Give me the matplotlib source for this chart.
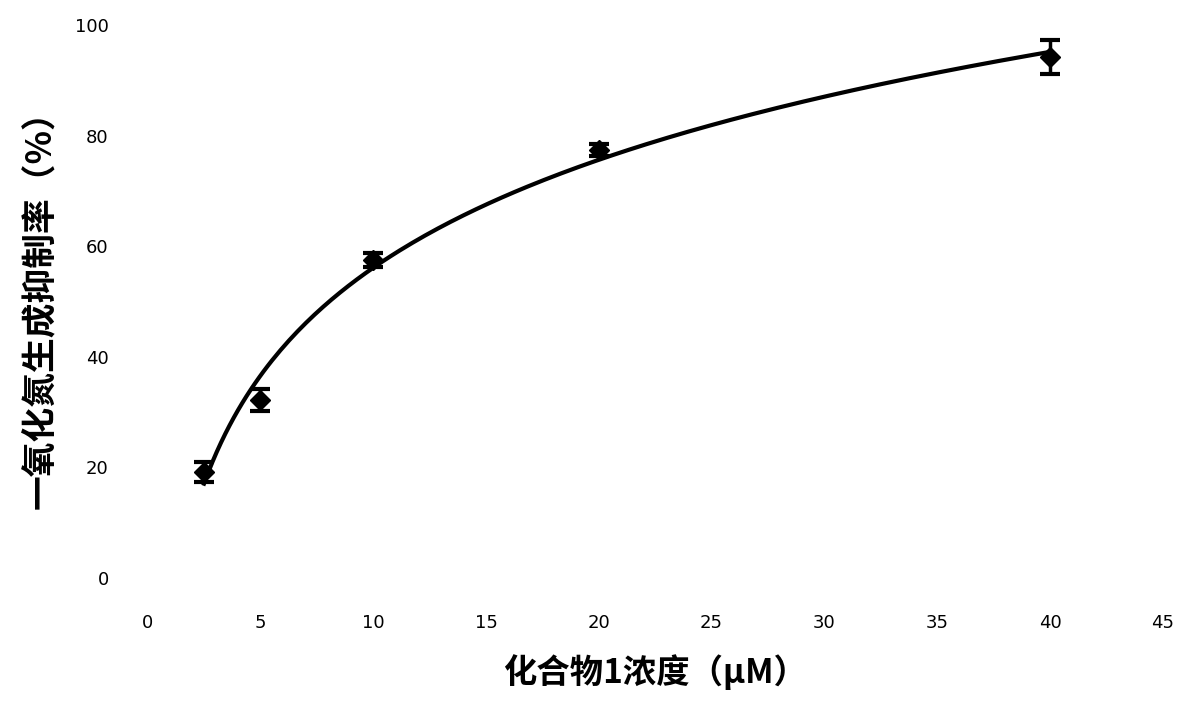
import numpy as np
import matplotlib
matplotlib.use("Agg")
import matplotlib.pyplot as plt

plt.rcParams['font.family'] = ['Noto Sans CJK SC', 'DejaVu Sans']

# data
conc = [2.5, 5, 10, 20, 40]
inhibition = [19.2, 32.2, 57.5, 77.4, 94.2]
err = [1.8, 2.0, 1.2, 1.0, 3.0]

xticks = [0, 5, 10, 15, 20, 25, 30, 35, 40, 45]
yticks = [0, 20, 40, 60, 80, 100]

# logarithmic trendline fitted to the points
a, b = np.polyfit(np.log(conc), inhibition, 1)
xs = np.linspace(conc[0], conc[-1], 200)
ys = a * np.log(xs) + b

fig = plt.figure(figsize=(12, 7.08), dpi=100)
ax = fig.add_axes([0.123, 0.1836, 0.846, 0.7811])

ax.plot(xs, ys, color='black', lw=3)
ax.errorbar(conc, inhibition, yerr=err, fmt='D', color='black', ms=10,
            elinewidth=2.5, capsize=7, capthick=3)

ax.set_xlim(0, 45)
ax.set_ylim(0, 100)
ax.set_xticks(xticks)
ax.set_yticks(yticks)
ax.tick_params(length=0, labelsize=13)
ax.tick_params(axis='x', pad=26)
ax.tick_params(axis='y', pad=28)
for lbl in ax.get_xticklabels() + ax.get_yticklabels():
    lbl.set_fontfamily('DejaVu Sans')
for s in ax.spines.values():
    s.set_visible(False)

ax.set_xlabel('化合物1浓度（μM）', fontsize=24, fontweight='bold', labelpad=16)
ax.set_ylabel('一氧化氮生成抑制率（%）', fontsize=25, fontweight='bold', labelpad=12)

fig.savefig('out.png', dpi=100)
